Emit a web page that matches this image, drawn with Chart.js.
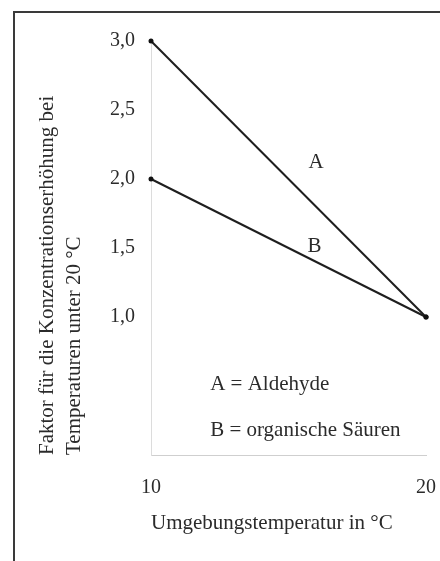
<!DOCTYPE html>
<html>
<head>
<meta charset="utf-8">
<script src="https://cdn.jsdelivr.net/npm/chart.js@4/dist/chart.umd.min.js"></script>
<style>
  html, body { margin: 0; padding: 0; background: #fff; }
  #wrap { position: relative; width: 440px; height: 561px; overflow: hidden; }
  #frame { position: absolute; left: 13px; top: 11px; width: 440px; height: 560px;
           border-left: 2px solid #3a3a3a; border-top: 2px solid #3a3a3a; box-sizing: border-box; }
  canvas { position: absolute; left: 0; top: 0; }
</style>
</head>
<body>
<div id="wrap">
  <div id="frame"></div>
  <canvas id="chart" width="440" height="561"></canvas>
</div>
<script>
"use strict";

// Temperatur-Stützstellen (°C) und Faktoren
var temps = [10, 20];
var aldehyde = [3.0, 1.0];
var saeuren = [2.0, 1.0];

var xTicks = [10, 20];
var yTicks = [1.0, 1.5, 2.0, 2.5, 3.0];

// Beschriftungen im Diagramm (Datenkoordinaten)
var curveLabels = ["A", "B"];
var curveLabelX = [16.0, 15.95];
var curveLabelY = [2.12, 1.51];
var keyLabels = ["A = Aldehyde", "B = organische Säuren"];
var keyLabelX = [12.15, 12.15];
var keyLabelY = [0.51, 0.18];

var FONT = "'Liberation Serif', 'DejaVu Serif', serif";
var INK = "#2b2b2b";

function pts(ys) {
  return temps.map(function(x, i) { return { x: x, y: ys[i] }; });
}

var notesPlugin = {
  id: "notes",
  afterDatasetsDraw: function(chart) {
    var ctx = chart.ctx, xs = chart.scales.x, ys = chart.scales.y;
    ctx.save();
    ctx.fillStyle = INK;
    ctx.font = "21px " + FONT;
    ctx.textBaseline = "middle";
    ctx.textAlign = "center";
    for (var i = 0; i < curveLabels.length; i++) {
      ctx.fillText(curveLabels[i], xs.getPixelForValue(curveLabelX[i]), ys.getPixelForValue(curveLabelY[i]));
    }
    ctx.textAlign = "left";
    for (var k = 0; k < keyLabels.length; k++) {
      ctx.fillText(keyLabels[k], xs.getPixelForValue(keyLabelX[k]), ys.getPixelForValue(keyLabelY[k]));
    }
    ctx.restore();
  }
};

var lineStyle = {
  borderColor: "#1e1e1e",
  backgroundColor: "#111",
  borderWidth: 2,
  pointRadius: 2.5,
  pointBackgroundColor: "#111",
  pointBorderWidth: 0,
  tension: 0,
  fill: false,
  clip: false
};

new Chart(document.getElementById("chart").getContext("2d"), {
  type: "line",
  data: {
    datasets: [
      Object.assign({ label: "A", data: pts(aldehyde) }, lineStyle),
      Object.assign({ label: "B", data: pts(saeuren) }, lineStyle)
    ]
  },
  options: {
    responsive: false,
    animation: false,
    layout: { padding: { left: 0, top: 41, right: 14, bottom: 0 } },
    plugins: { legend: { display: false }, tooltip: { enabled: false } },
    scales: {
      x: {
        type: "linear",
        min: 10, max: 20,
        afterBuildTicks: function(s) { s.ticks = xTicks.map(function(v) { return { value: v }; }); },
        afterFit: function(s) { s.height = 106; s.paddingLeft = 10; s.paddingRight = 10; },
        grid: { display: false, drawTicks: false },
        border: { display: true, color: "#cfcfcf", width: 1 },
        ticks: { padding: 21, color: INK, font: { family: FONT, size: 20 } },
        title: {
          display: true,
          text: "Umgebungstemperatur in °C",
          align: "start",
          color: INK,
          font: { family: FONT, size: 21, lineHeight: 1.2 },
          padding: { top: 0, bottom: 25 }
        }
      },
      y: {
        type: "linear",
        min: 0, max: 3,
        afterBuildTicks: function(s) { s.ticks = yTicks.map(function(v) { return { value: v }; }); },
        afterFit: function(s) { s.width = 151; },
        grid: { display: false, drawTicks: false },
        border: { display: true, color: "#dcdcdc", width: 1, dash: [2, 3] },
        ticks: {
          padding: 16,
          color: INK,
          font: { family: FONT, size: 20 },
          callback: function(v) { return v.toFixed(1).replace(".", ","); }
        },
        title: {
          display: true,
          text: ["Faktor für die Konzentrationserhöhung bei", "Temperaturen unter 20 °C"],
          align: "start",
          color: INK,
          font: { family: FONT, size: 21, lineHeight: 1.3 },
          padding: { top: 34, bottom: 0 }
        }
      }
    }
  },
  plugins: [notesPlugin]
});
</script>
</body>
</html>
